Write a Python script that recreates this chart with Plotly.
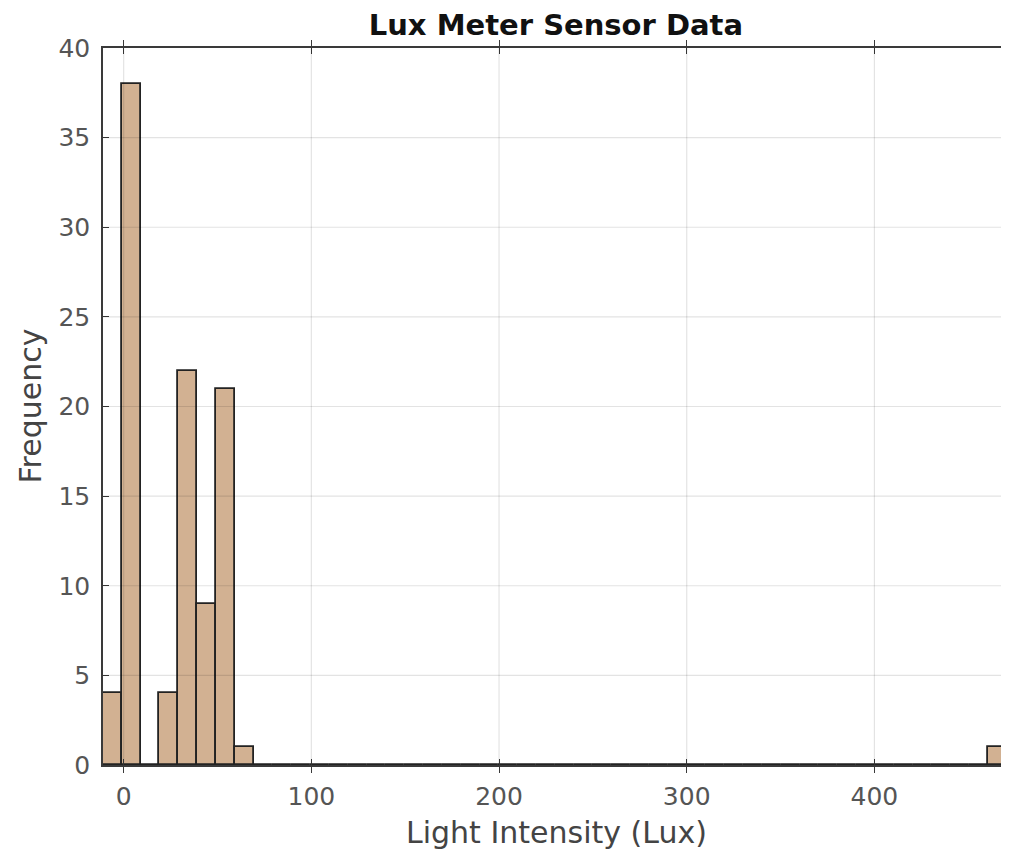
import plotly.graph_objects as go

# Histogram data (Lux values binned)
bin_start = -11.0
bin_width = 10.03
counts = [4, 38, 0, 4, 22, 9, 21, 1] + [0] * 39 + [1]
x_ticks = [0, 100, 200, 300, 400]
y_ticks = [0, 5, 10, 15, 20, 25, 30, 35, 40]

centers = [bin_start + (i + 0.5) * bin_width for i in range(len(counts))]

FONT = "DejaVu Sans"
AXC = "#3a3a3a"
GRID = "rgba(0,0,0,0.11)"

fig = go.Figure()
fig.add_trace(go.Bar(
    x=centers, y=counts, width=[bin_width] * len(counts),
    marker=dict(color="#d2b192", line=dict(color="#222222", width=1.8)),
    hoverinfo="x+y",
))
# empty helper trace so the right-hand tick axis is drawn
fig.add_trace(go.Scatter(x=[None], y=[None], yaxis="y2", hoverinfo="skip",
                         showlegend=False))

# grid lines drawn above the bars (as in the original)
for xv in x_ticks:
    fig.add_shape(type="line", xref="x", yref="paper", x0=xv, x1=xv, y0=0, y1=1,
                  line=dict(color=GRID, width=1.2), layer="above")
for yv in y_ticks[1:-1]:
    fig.add_shape(type="line", xref="paper", yref="y", x0=0, x1=1, y0=yv, y1=yv,
                  line=dict(color=GRID, width=1.2), layer="above")

tickfont = dict(family=FONT, size=25, color="#555555")

fig.update_layout(
    width=1009, height=853,
    margin=dict(l=95, r=8, t=40, b=96),
    paper_bgcolor="white", plot_bgcolor="white",
    title=dict(text="<b>Lux Meter Sensor Data</b>", x=0.543, xanchor="center",
               y=0.980, yanchor="middle",
               font=dict(family=FONT, size=29, color="#111111")),
    xaxis=dict(range=[-11, 471.7], tickvals=x_ticks, ticklabelstandoff=8,
               showgrid=False,
               showline=True, linecolor=AXC, linewidth=1.5,
               mirror="allticks", ticks="inside", ticklen=6, tickcolor=AXC,
               tickfont=tickfont, zeroline=False),
    yaxis=dict(range=[0, 40], tickvals=y_ticks, ticklabelstandoff=6,
               showgrid=False,
               showline=True, linecolor=AXC, linewidth=1.5,
               mirror=False, ticks="inside", ticklen=6, tickcolor=AXC,
               tickfont=tickfont, zeroline=False),
    yaxis2=dict(overlaying="y", side="right", range=[0, 40], tickvals=y_ticks,
                showticklabels=False, showgrid=False, showline=False,
                ticks="inside", ticklen=6, tickcolor=AXC, zeroline=False),
    showlegend=False, bargap=0,
    annotations=[
        dict(text="Light Intensity (Lux)", xref="paper", yref="paper",
             x=0.5, y=0, xanchor="center", yanchor="middle", yshift=-67,
             showarrow=False, font=dict(family=FONT, size=30, color="#444444")),
        dict(text="Frequency", xref="paper", yref="paper",
             x=0, y=0.5, xanchor="center", yanchor="middle", xshift=-73,
             textangle=-90, showarrow=False,
             font=dict(family=FONT, size=30, color="#444444")),
    ],
)

fig.write_html("out.html")
